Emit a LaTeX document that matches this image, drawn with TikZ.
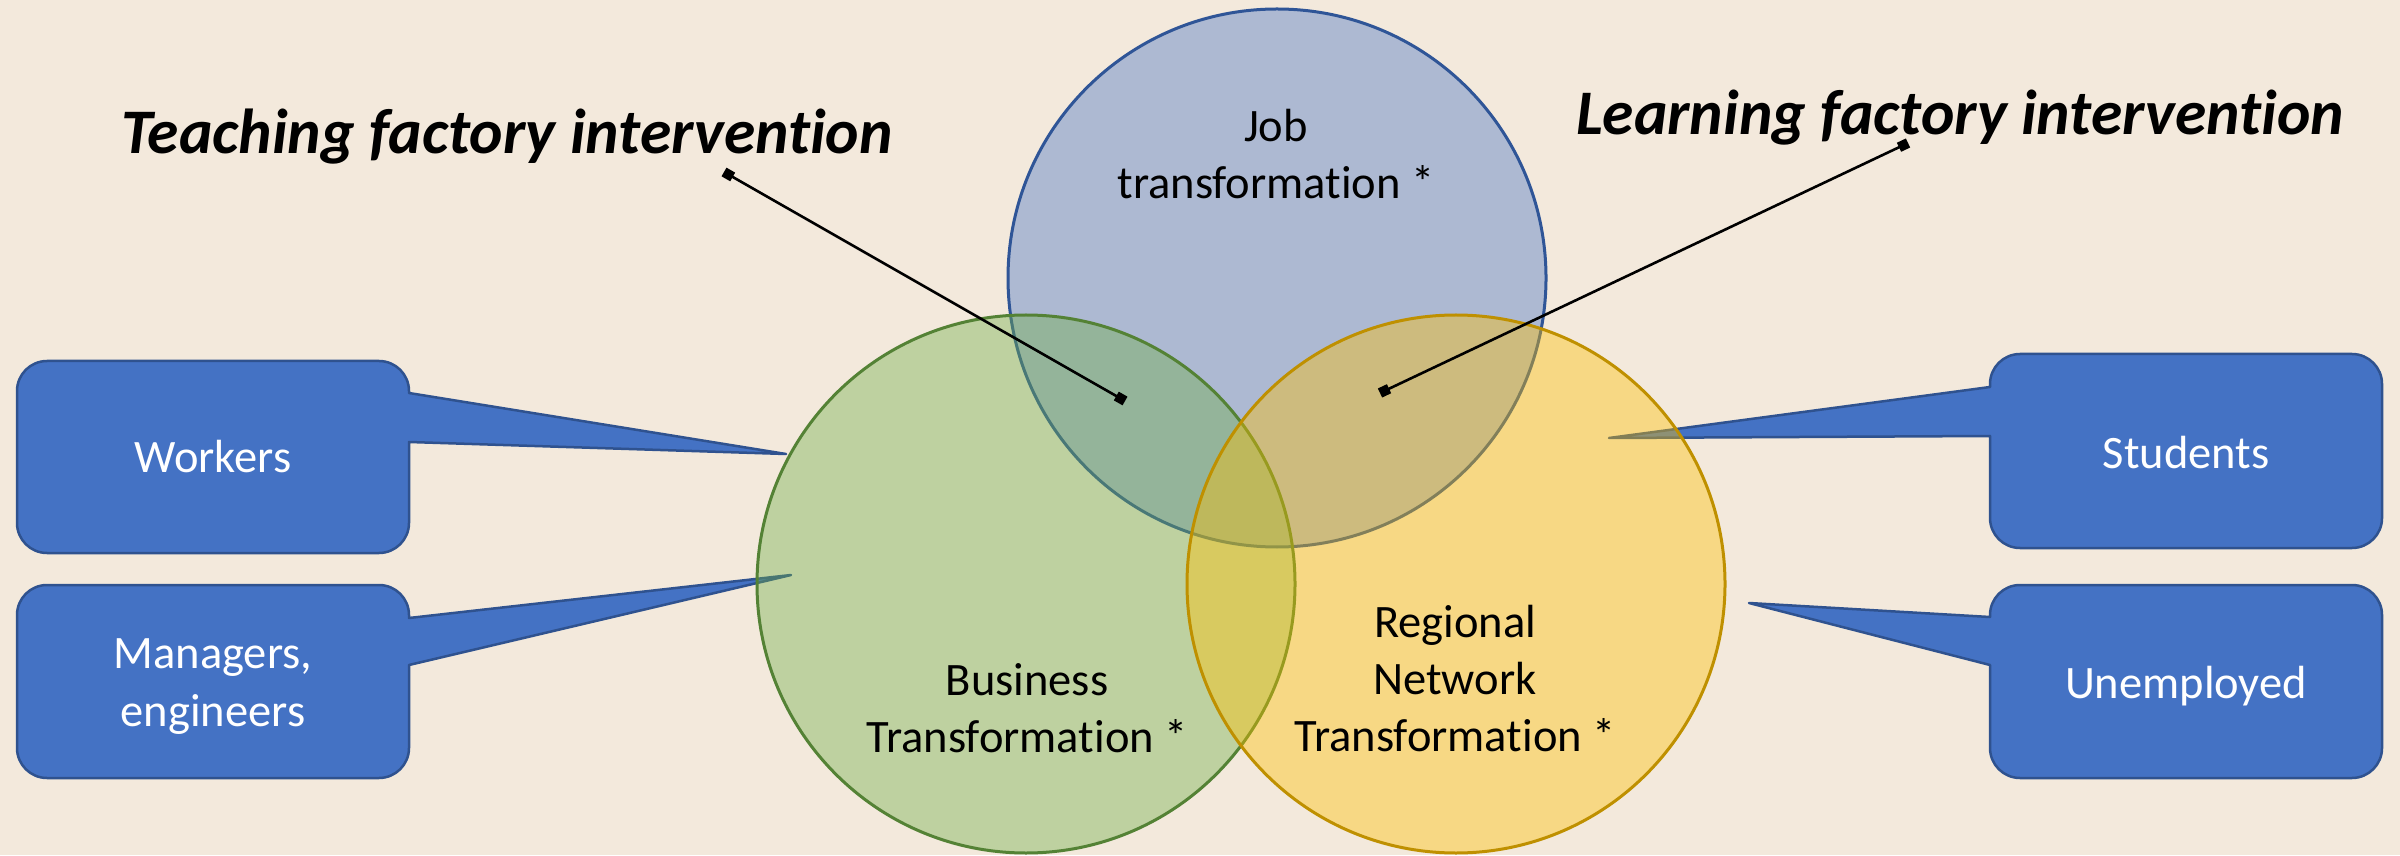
\documentclass[tikz,border=0pt]{standalone}
\usepackage{fontspec}
\setmainfont{Carlito}[Ligatures=NoCommon]
\usetikzlibrary{arrows.meta}
\definecolor{bgc}{RGB}{243,233,220}
\definecolor{acblue}{RGB}{68,114,196}
\definecolor{acblueline}{RGB}{47,85,151}
\definecolor{acgreen}{RGB}{112,173,71}
\definecolor{acgreenline}{RGB}{84,130,53}
\definecolor{acgold}{RGB}{255,192,0}
\definecolor{acgoldline}{RGB}{191,144,0}
\definecolor{cfill}{RGB}{68,114,196}
\definecolor{cline}{RGB}{47,82,143}
\begin{document}
\begin{tikzpicture}[x=1pt,y=1pt,
  callbox/.style={fill=cfill,draw=cline,line width=2.5pt,line join=round},
  calltext/.style={text=white,inner sep=0pt,anchor=base,font=\fontsize{46.5}{58}\selectfont},
  venntext/.style={text=black,inner sep=0pt,anchor=base,font=\fontsize{46.5}{57}\selectfont},
  titletext/.style={text=black,inner sep=0pt,anchor=base,font=\fontsize{63.5}{70}\selectfont\bfseries\itshape},
  vennfill/.style={fill opacity=0.4},
  leader/.style={line width=2.6pt,black,{Square[length=10pt,width=10pt]}-{Square[length=10pt,width=10pt]}}
]
\useasboundingbox (0,0) rectangle (2400,855);
\fill[bgc] (0,0) rectangle (2400,855);

% callouts (beneath the circles)
\path[callbox] (47,494) -- (379,494) arc[start angle=90,end angle=0,radius=30pt]
  -- (409,462) -- (786,401) -- (409,413) -- (409,332)
  arc[start angle=0,end angle=-90,radius=30pt] -- (47,302)
  arc[start angle=-90,end angle=-180,radius=30pt] -- (17,464)
  arc[start angle=180,end angle=90,radius=30pt] -- cycle;
\path[callbox] (47,270) -- (379,270) arc[start angle=90,end angle=0,radius=30pt]
  -- (409,237) -- (791,280) -- (409,190) -- (409,107)
  arc[start angle=0,end angle=-90,radius=30pt] -- (47,77)
  arc[start angle=-90,end angle=-180,radius=30pt] -- (17,240)
  arc[start angle=180,end angle=90,radius=30pt] -- cycle;
\path[callbox] (2020,501) -- (2352,501) arc[start angle=90,end angle=0,radius=30pt]
  -- (2382,337) arc[start angle=0,end angle=-90,radius=30pt] -- (2020,307)
  arc[start angle=-90,end angle=-180,radius=30pt] -- (1990,419) -- (1609,417)
  -- (1990,468) -- (1990,471) arc[start angle=180,end angle=90,radius=30pt] -- cycle;
\path[callbox] (2020,270) -- (2352,270) arc[start angle=90,end angle=0,radius=30pt]
  -- (2382,107) arc[start angle=0,end angle=-90,radius=30pt] -- (2020,77)
  arc[start angle=-90,end angle=-180,radius=30pt] -- (1990,190) -- (1749,252)
  -- (1990,238) -- (1990,240) arc[start angle=180,end angle=90,radius=30pt] -- cycle;

\node[calltext] (workers) at (213,382) {Workers};
\node[calltext] (managers) at (213,187) {\begin{tabular}[t]{@{}c@{}}Managers,\\engineers\end{tabular}};
\node[calltext] (students) at (2186,387) {Students};
\node[calltext] (unemployed) at (2186,157) {Unemployed};

% circles
\fill[acblue,vennfill] (1277,577) circle[radius=269pt];
\draw[acblueline,line width=3pt] (1277,577) circle[radius=269pt];
\fill[acgreen,vennfill] (1026,271) circle[radius=269pt];
\draw[acgreenline,line width=3pt] (1026,271) circle[radius=269pt];
\fill[acgold,vennfill] (1456,271) circle[radius=269pt];
\draw[acgoldline,line width=3pt] (1456,271) circle[radius=269pt];

\node[venntext] (job) at (1276,713) {\begin{tabular}[t]{@{}c@{}}Job\\transformation *\end{tabular}};
\node[venntext] (business) at (1027,160) {\begin{tabular}[t]{@{}c@{}}Business\\Transformation *\end{tabular}};
\node[venntext] (regional) at (1455,218) {\begin{tabular}[t]{@{}c@{}}Regional\\Network\\Transformation *\end{tabular}};

% titles and leaders
\node[titletext] (teach) at (507,701) {Teaching factory intervention};
\node[titletext] (learn) at (1960,720) {Learning factory intervention};
\coordinate (teachA) at (724,683);
\coordinate (teachB) at (1125,454);
\coordinate (learnA) at (1908,712);
\coordinate (learnB) at (1380,462);
\draw[leader] (teachA) -- (teachB);
\draw[leader] (learnA) -- (learnB);
\end{tikzpicture}
\end{document}
